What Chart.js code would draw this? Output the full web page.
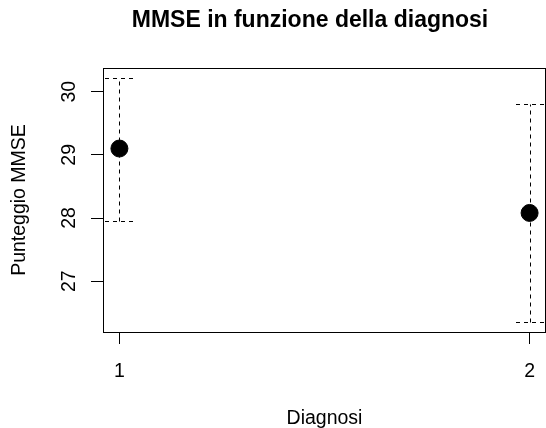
<!DOCTYPE html>
<html>
<head>
<meta charset="utf-8">
<script src="https://cdn.jsdelivr.net/npm/chart.js@4"></script>
<style>
  html, body { margin: 0; padding: 0; background: #fff; }
  #wrap { width: 546px; height: 428px; }
</style>
</head>
<body>
<div id="wrap"><canvas id="myChart" width="546" height="428"></canvas></div>
<script>
// data
const diagnosi = [1, 2];
const mmseMean = [29.1, 28.08];
const mmseLow = [27.95, 26.35];
const mmseHigh = [30.22, 29.81];
const yTicks = [27, 28, 29, 30];

const FONT = '"Liberation Sans", Arial, sans-serif';

// R style axis limits: data range + 4% each side
const xPad = (Math.max(...diagnosi) - Math.min(...diagnosi)) * 0.04;
const yLo = Math.min(...mmseLow), yHi = Math.max(...mmseHigh);
const yPad = (yHi - yLo) * 0.04;

const errorBars = {
  id: 'errorBars',
  beforeDatasetsDraw(chart) {
    const { ctx, chartArea, scales } = chart;
    ctx.save();
    ctx.beginPath();
    ctx.rect(chartArea.left, chartArea.top, chartArea.right - chartArea.left, chartArea.bottom - chartArea.top);
    ctx.clip();
    ctx.strokeStyle = '#000';
    ctx.lineWidth = 1;
    ctx.setLineDash([4, 4]);
    diagnosi.forEach((d, i) => {
      const x = Math.round(scales.x.getPixelForValue(d)) + 0.5;
      const yl = Math.round(scales.y.getPixelForValue(mmseLow[i])) + 0.5;
      const yh = Math.round(scales.y.getPixelForValue(mmseHigh[i])) + 0.5;
      ctx.beginPath();
      ctx.moveTo(x, yl); ctx.lineTo(x, yh);
      ctx.moveTo(x - 14.5, yl); ctx.lineTo(x + 14.5, yl);
      ctx.moveTo(x - 14.5, yh); ctx.lineTo(x + 14.5, yh);
      ctx.stroke();
    });
    ctx.restore();
  },
  afterDraw(chart) {
    const { ctx, chartArea, scales } = chart;
    ctx.save();
    // box
    ctx.strokeStyle = '#000';
    ctx.lineWidth = 1;
    ctx.strokeRect(Math.round(chartArea.left) + 0.5, Math.round(chartArea.top) + 0.5,
      Math.round(chartArea.right - chartArea.left) - 1, Math.round(chartArea.bottom - chartArea.top));
    ctx.fillStyle = '#000';
    // title
    ctx.font = 'bold 23px ' + FONT;
    ctx.textAlign = 'center';
    ctx.textBaseline = 'alphabetic';
    ctx.fillText('MMSE in funzione della diagnosi', 310, 27);
    // x tick labels
    ctx.font = '19.5px ' + FONT;
    diagnosi.forEach(d => {
      ctx.fillText(String(d), scales.x.getPixelForValue(d), 377);
    });
    // x title
    ctx.fillText('Diagnosi', (chartArea.left + chartArea.right) / 2, 424);
    // y tick labels, rotated
    yTicks.forEach(v => {
      ctx.save();
      ctx.translate(75, scales.y.getPixelForValue(v));
      ctx.rotate(-Math.PI / 2);
      ctx.fillText(String(v), 0, 0);
      ctx.restore();
    });
    // y title
    ctx.save();
    ctx.translate(25, (chartArea.top + chartArea.bottom) / 2);
    ctx.rotate(-Math.PI / 2);
    ctx.fillText('Punteggio MMSE', 0, 0);
    ctx.restore();
    ctx.restore();
  }
};

const chartData = {
  datasets: [
    {
      label: 'MMSE',
      data: diagnosi.map((d, i) => ({ x: d, y: mmseMean[i] })),
      backgroundColor: '#000',
      borderColor: '#000',
      pointRadius: 8.5,
      pointHoverRadius: 8.5,
    },
  ],
};

const config = {
  type: 'scatter',
  data: chartData,
  options: {
    responsive: false,
    animation: false,
    layout: { autoPadding: false, padding: { top: 68, left: 0, right: 0, bottom: 0 } },
    plugins: {
      legend: { display: false },
      title: { display: false },
      tooltip: { enabled: false },
    },
    scales: {
      x: {
        type: 'linear',
        min: Math.min(...diagnosi) - xPad,
        max: Math.max(...diagnosi) + xPad,
        afterBuildTicks: axis => { axis.ticks = diagnosi.map(v => ({ value: v })); },
        afterFit: axis => { axis.height = 96; },
        ticks: { display: false },
        grid: { drawOnChartArea: false, drawTicks: true, tickLength: 12, color: '#000' },
        border: { display: false },
      },
      y: {
        min: yLo - yPad,
        max: yHi + yPad,
        afterBuildTicks: axis => { axis.ticks = yTicks.map(v => ({ value: v })); },
        afterFit: axis => { axis.width = 103; },
        ticks: { display: false },
        grid: { drawOnChartArea: false, drawTicks: true, tickLength: 12, color: '#000' },
        border: { display: false },
      },
    },
  },
  plugins: [errorBars],
};

// render init block
const myChart = new Chart(document.getElementById('myChart'), config);
</script>
</body>
</html>
